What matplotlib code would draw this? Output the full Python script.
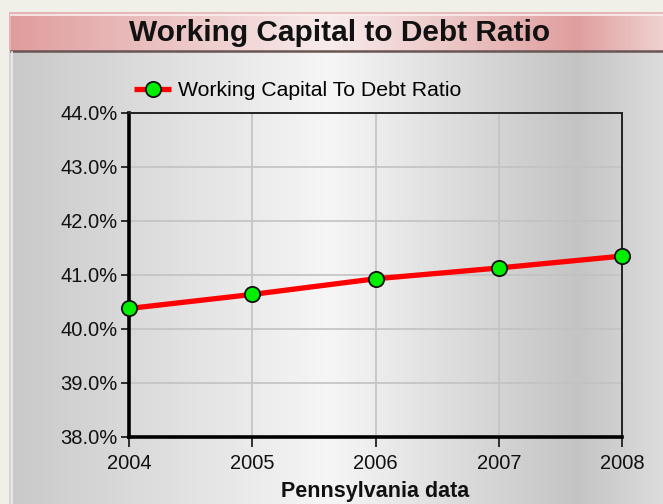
import matplotlib.pyplot as plt
import numpy as np
from matplotlib.colors import LinearSegmentedColormap

years = [2004, 2005, 2006, 2007, 2008]
ratio = [40.38, 40.64, 40.93, 41.13, 41.35]
y_ticks = [38, 39, 40, 41, 42, 43, 44]
series_name = "Working Capital To Debt Ratio"
title = "Working Capital to Debt Ratio"
x_title = "Pennsylvania data"

plt.rcParams['font.family'] = ['Liberation Sans', 'DejaVu Sans']

W, H = 663, 504
fig = plt.figure(figsize=(W / 100, H / 100), dpi=100)
fig.patch.set_facecolor('#f0efe8')

# background decoration in pixel coords
bg = fig.add_axes([0, 0, 1, 1])
bg.set_xlim(0, W)
bg.set_ylim(H, 0)
bg.axis('off')

stops = [0.0, 0.49, 0.87, 1.0]
gray = LinearSegmentedColormap.from_list(
    'g', list(zip(stops, ['#c9c9c9', '#f6f6f6', '#c4c4c4', '#dcdcdc'])))
pink = LinearSegmentedColormap.from_list(
    'p', list(zip(stops, ['#e09c9c', '#f8ecec', '#e09e9e', '#f0d0d0'])))
grad = np.linspace(0, 1, 256).reshape(1, -1)
bg.imshow(grad, cmap=gray, aspect='auto', extent=(9, W, H, 52), zorder=0)
bg.imshow(grad, cmap=pink, aspect='auto', extent=(9, W, 51, 12), zorder=0)
bg.plot([9.5, W], [12.5, 12.5], color='#e7b8b8', lw=1.2, zorder=1)
bg.plot([9.5, 9.5], [12.5, 51], color='#e7b8b8', lw=1.2, zorder=1)
bg.plot([9.5, 9.5], [51, H], color='#d8d8d8', lw=1.2, zorder=1)
bg.plot([11, W], [14.5, 14.5], color='#fbeeee', lw=1.2, zorder=1)
bg.plot([11, W], [50.5, 50.5], color='#6a5555', lw=1.8, zorder=1)
bg.plot([11.5, 11.5], [52, H], color='#eeeeee', lw=1.2, zorder=1)
bg.text(340, 33, title, ha='center', va='center', fontsize=21.5,
        fontweight='bold', color='#111111')

ax = fig.add_axes([129 / W, 1 - 437 / H, (622 - 129) / W, (437 - 113) / H])
ax.patch.set_alpha(0)
ax.plot(years, ratio, color='#ff0000', lw=3.8, marker='o', markersize=11,
        markerfacecolor='#00ee00', markeredgecolor='#111111',
        markeredgewidth=1.3, label=series_name, zorder=5, clip_on=False,
        solid_capstyle='butt')

ax.set_xlim(years[0], years[-1])
ax.set_ylim(y_ticks[0], y_ticks[-1])
ax.set_xticks(years)
ax.set_yticks(y_ticks)
ax.set_yticklabels([f"{v:.1f}%" for v in y_ticks])
ax.grid(True, color='#c2c2c2', lw=1.2)
ax.set_axisbelow(True)
ax.tick_params(axis='y', direction='out', length=6, width=1.2, pad=2,
               labelsize=14.5, colors='#111111')
ax.tick_params(axis='x', direction='out', length=7, width=1.2, pad=5,
               labelsize=14.5, colors='#111111')

for side in ['left', 'bottom']:
    ax.spines[side].set_linewidth(2.6)
    ax.spines[side].set_color('#000000')
for side in ['top', 'right']:
    ax.spines[side].set_linewidth(1.4)
    ax.spines[side].set_color('#222222')

ax.set_xlabel(x_title, fontsize=15.5, fontweight='bold', labelpad=6,
              color='#111111')

ax.legend(loc='center left', bbox_to_anchor=(134 / W, 1 - 91 / H),
          bbox_transform=fig.transFigure, frameon=False, fontsize=15.3,
          numpoints=1, handlelength=1.75, handletextpad=0.3,
          borderaxespad=0, borderpad=0)

fig.savefig('out.png', dpi=100, facecolor=fig.get_facecolor())
